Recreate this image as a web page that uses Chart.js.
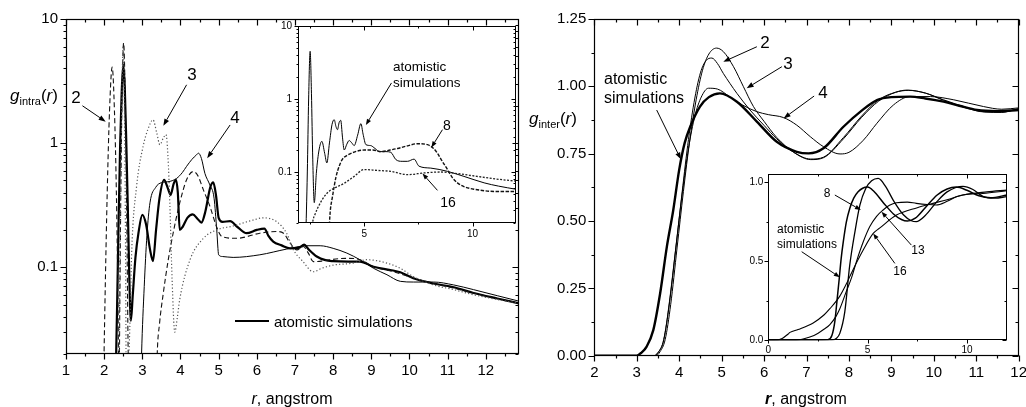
<!DOCTYPE html>
<html>
<head>
<meta charset="utf-8">
<script src="https://cdn.jsdelivr.net/npm/chart.js@4.4.1/dist/chart.umd.min.js"></script>
<style>
  body { margin: 0; background: #fff; font-family: 'Liberation Sans', Arial, sans-serif; }
  #wrap { position: relative; width: 1026px; height: 407px; overflow: hidden; background: #fff; }
  canvas { position: absolute; }
  .t { position: absolute; white-space: nowrap; color: #000; line-height: 1; transform: translate(-50%, -50%); }
  .l { position: absolute; white-space: nowrap; color: #000; line-height: 1; transform: translateY(-50%); }
  .sub { font-size: 11px; position: relative; top: 4px; }
</style>
</head>
<body>
<div id="wrap">
  <canvas id="intra" width="525" height="407" style="left:0;top:0"></canvas>
  <canvas id="intraInset" width="270" height="245" style="left:250px;top:0"></canvas>
  <canvas id="inter" width="501" height="407" style="left:525px;top:0"></canvas>
  <canvas id="interInset" width="290" height="200" style="left:725px;top:160px"></canvas>

  <!-- left panel text -->
  <div class="t" style="left:34px;top:95px;font-size:17px"><i>g</i><span class="sub">intra</span>(<i>r</i>)</div>
  <div class="t" style="left:76px;top:97px;font-size:17px">2</div>
  <div class="t" style="left:192px;top:74px;font-size:17px">3</div>
  <div class="t" style="left:235px;top:117px;font-size:17px">4</div>
  <div style="position:absolute;left:235px;top:320px;width:34px;height:2.4px;background:#000"></div>
  <div class="l" style="left:274px;top:321px;font-size:15px">atomistic simulations</div>
  <div class="l" style="left:393px;top:67px;font-size:13.5px">atomistic</div>
  <div class="l" style="left:393px;top:83px;font-size:13.5px">simulations</div>
  <div class="t" style="left:447px;top:125px;font-size:14px">8</div>
  <div class="t" style="left:448px;top:202px;font-size:14px">16</div>
  <div class="t" style="left:292px;top:399px;font-size:16px"><i>r</i>, angstrom</div>

  <!-- right panel text -->
  <div class="t" style="left:553px;top:118px;font-size:17px"><i>g</i><span class="sub">inter</span>(<i>r</i>)</div>
  <div class="t" style="left:765px;top:42px;font-size:17px">2</div>
  <div class="t" style="left:788px;top:63px;font-size:17px">3</div>
  <div class="t" style="left:823px;top:92px;font-size:17px">4</div>
  <div class="l" style="left:604px;top:79px;font-size:16px">atomistic</div>
  <div class="l" style="left:604px;top:98px;font-size:16px">simulations</div>
  <div class="t" style="left:827px;top:193px;font-size:12px">8</div>
  <div class="l" style="left:777px;top:229px;font-size:12px">atomistic</div>
  <div class="l" style="left:777px;top:244px;font-size:12px">simulations</div>
  <div class="t" style="left:918px;top:250px;font-size:12px">13</div>
  <div class="t" style="left:900px;top:271px;font-size:12px">16</div>
  <div class="t" style="left:806px;top:399px;font-size:16px"><b><i>r</i></b>, angstrom</div>
</div>

<script>
// ---- g_intra(r), main panel: [r, g] pairs ----
const intraAtom = [[2.30,0.012],[2.34,0.05],[2.38,0.25],[2.42,1.0],[2.46,2.6],[2.50,4.3],[2.54,2.8],[2.58,1.0],[2.62,0.3],[2.66,0.08],
  [2.70,0.037],[2.75,0.06],[2.82,0.12],[2.90,0.19],[3.00,0.264],[3.10,0.22],[3.20,0.14],[3.28,0.112],[3.36,0.2],[3.45,0.36],
  [3.57,0.506],[3.66,0.44],[3.74,0.383],[3.82,0.47],[3.88,0.506],[3.93,0.4],[3.98,0.2],[4.05,0.21],[4.18,0.25],[4.32,0.267],
  [4.45,0.245],[4.55,0.229],[4.65,0.28],[4.78,0.44],[4.86,0.482],[4.93,0.38],[5.00,0.25],[5.10,0.232],[5.30,0.235],[5.50,0.21],
  [5.73,0.188],[6.00,0.2],[6.20,0.205],[6.30,0.18],[6.43,0.161],[6.65,0.15],[6.87,0.142],[7.10,0.143],[7.24,0.152],[7.35,0.14],
  [7.57,0.122],[7.80,0.114],[8.00,0.112],[8.40,0.111],[8.70,0.111],[9.06,0.101],[9.50,0.095],[9.76,0.091],[10.10,0.0815],[10.63,0.074],
  [11.16,0.069],[11.68,0.062],[12.30,0.056],[12.90,0.051]];
const intraMap2 = [[1.98,0.01],[2.02,0.05],[2.08,0.4],[2.14,1.8],[2.21,4.1],[2.27,1.8],[2.32,0.4],[2.36,0.06],[2.39,0.01],[2.41,0.05],
  [2.44,0.5],[2.47,2.5],[2.51,6.4],[2.55,2.5],[2.59,0.3],[2.63,0.02],[2.67,0.008],[3.36,0.008],[3.39,0.02],[3.45,0.035],
  [3.55,0.062],[3.68,0.115],[3.81,0.19],[3.98,0.33],[4.16,0.506],[4.33,0.59],[4.45,0.55],[4.6,0.42],[4.77,0.31],[4.95,0.21],
  [5.08,0.177],[5.47,0.171],[6.08,0.188],[6.52,0.194],[6.7,0.188],[6.87,0.157],[7.05,0.138],[7.22,0.147],[7.35,0.13],[7.48,0.111],
  [7.7,0.112],[7.92,0.115],[8.36,0.118],[8.7,0.115],[9.06,0.101],[9.58,0.092],[10.1,0.082],[10.63,0.074],[11.16,0.068],[11.68,0.062],
  [12.3,0.056],[12.9,0.051]];
const intraMap3 = [[2.38,0.01],[2.42,0.2],[2.46,2.0],[2.5,6.0],[2.53,2.0],[2.56,0.15],[2.58,0.01],[2.62,0.008],[2.64,0.015],[2.68,0.04],
  [2.72,0.13],[2.85,0.45],[3.02,0.94],[3.15,1.3],[3.28,1.54],[3.38,1.2],[3.46,0.97],[3.55,1.1],[3.62,1.17],[3.67,0.8],
  [3.72,0.33],[3.78,0.08],[3.85,0.03],[3.92,0.04],[3.98,0.055],[4.25,0.115],[4.6,0.171],[4.95,0.2],[5.38,0.215],[5.9,0.24],
  [6.17,0.25],[6.52,0.233],[6.78,0.188],[6.96,0.138],[7.2,0.112],[7.48,0.092],[7.7,0.098],[8.0,0.104],[8.53,0.108],[8.88,0.115],
  [9.41,0.108],[9.76,0.098],[10.1,0.084],[10.63,0.072],[11.16,0.066],[11.68,0.06],[12.3,0.055],[12.9,0.051]];
const intraMap4 = [[2.95,0.008],[2.98,0.02],[3.05,0.07],[3.12,0.18],[3.2,0.33],[3.35,0.44],[3.5,0.48],[3.7,0.49],[3.9,0.52],[4.05,0.58],
  [4.16,0.65],[4.3,0.74],[4.42,0.805],[4.47,0.83],[4.55,0.75],[4.64,0.57],[4.77,0.46],[4.88,0.36],[4.95,0.2],[5.0,0.126],
  [5.1,0.122],[5.38,0.12],[6.08,0.126],[6.78,0.14],[7.31,0.149],[7.66,0.149],[8.0,0.142],[8.36,0.13],[8.7,0.115],[9.06,0.098],
  [9.41,0.087],[9.76,0.077],[10.1,0.076],[10.63,0.076],[11.16,0.072],[11.68,0.066],[12.3,0.059],[12.9,0.053]];

// ---- g_intra(r), inset ----
const intraInsetAtom = [[2.3,0.01],[2.38,0.1],[2.44,1.0],[2.51,4.5],[2.57,1.2],[2.63,0.15],[2.7,0.038],[2.8,0.1],[2.92,0.2],[3.05,0.263],
  [3.18,0.18],[3.28,0.133],[3.4,0.25],[3.52,0.45],[3.62,0.52],[3.7,0.42],[3.77,0.38],[3.85,0.48],[3.92,0.51],[4.0,0.3],
  [4.08,0.2],[4.2,0.24],[4.31,0.27],[4.43,0.25],[4.54,0.23],[4.7,0.32],[4.85,0.46],[4.95,0.33],[5.08,0.237],[5.3,0.23],
  [5.5,0.21],[5.7,0.19],[6.0,0.19],[6.23,0.186],[6.46,0.148],[6.75,0.14],[7.0,0.14],[7.3,0.15],[7.53,0.12],[8.07,0.113],
  [8.84,0.102],[9.6,0.087],[10.53,0.071],[11.2,0.064],[12.0,0.058]];
const intraInset8 = [[3.36,0.01],[3.42,0.025],[3.54,0.046],[3.7,0.085],[3.85,0.12],[4.0,0.15],[4.23,0.17],[4.6,0.19],[5.0,0.2],[5.4,0.2],
  [5.77,0.19],[6.2,0.2],[6.54,0.21],[7.0,0.228],[7.46,0.244],[7.92,0.237],[8.2,0.21],[8.38,0.18],[8.6,0.14],[8.84,0.108],
  [9.05,0.085],[9.3,0.071],[9.6,0.063],[10.07,0.058],[11.14,0.054],[12.0,0.054]];
const intraInset16 = [[2.55,0.012],[2.62,0.02],[2.75,0.027],[2.9,0.034],[3.16,0.046],[3.4,0.055],[3.62,0.06],[4.08,0.07],[4.54,0.087],[5.0,0.108],
  [5.6,0.105],[6.23,0.102],[7.0,0.092],[7.76,0.097],[8.53,0.1],[9.3,0.095],[10.2,0.087],[11.1,0.08],[12.0,0.075]];

// ---- g_inter(r), main panel ----
const interAtom = [[2,0],[3.0,0],[3.1,0.01],[3.23,0.033],[3.39,0.095],[3.55,0.23],[3.71,0.405],[3.86,0.54],[4.0,0.69],[4.13,0.79],
  [4.26,0.85],[4.49,0.925],[4.7,0.96],[4.96,0.974],[5.36,0.943],[5.83,0.869],[6.3,0.794],[6.77,0.757],[7.05,0.751],[7.4,0.77],
  [7.87,0.85],[8.3,0.91],[8.66,0.949],[9.0,0.96],[9.44,0.962],[9.8,0.955],[10.23,0.943],[10.6,0.928],[11.02,0.912],[11.5,0.908],[12,0.912]];
const interMap2 = [[2,0],[3.4,0],[3.5,0.012],[3.62,0.05],[3.75,0.17],[3.9,0.37],[4.05,0.58],[4.2,0.78],[4.35,0.94],[4.5,1.05],
  [4.63,1.095],[4.77,1.105],[4.9,1.085],[5.04,1.048],[5.2,1.01],[5.36,0.974],[5.67,0.912],[6.0,0.855],[6.3,0.805],[6.7,0.755],
  [7.1,0.73],[7.4,0.737],[7.87,0.81],[8.3,0.89],[8.7,0.95],[9.1,0.978],[9.4,0.985],[9.8,0.975],[10.23,0.95],[10.8,0.92],
  [11.2,0.905],[11.6,0.903],[12,0.918]];
const interMap3 = [[2,0],[3.45,0],[3.55,0.015],[3.67,0.06],[3.8,0.19],[3.95,0.4],[4.1,0.61],[4.25,0.8],[4.4,0.95],[4.55,1.06],
  [4.7,1.12],[4.88,1.142],[5.04,1.129],[5.28,1.073],[5.51,1.0],[5.75,0.925],[6.0,0.87],[6.3,0.81],[6.7,0.755],[7.1,0.728],
  [7.4,0.735],[7.87,0.805],[8.3,0.885],[8.7,0.945],[9.1,0.978],[9.37,0.986],[9.8,0.975],[10.23,0.948],[10.8,0.918],[11.2,0.905],
  [11.6,0.905],[12,0.915]];
const interMap4 = [[2,0],[3.42,0],[3.52,0.015],[3.64,0.06],[3.77,0.2],[3.92,0.4],[4.07,0.6],[4.22,0.77],[4.37,0.89],[4.52,0.96],
  [4.69,0.993],[4.9,0.99],[5.2,0.96],[5.5,0.93],[5.83,0.906],[6.1,0.895],[6.46,0.884],[6.77,0.856],[7.09,0.813],[7.4,0.776],
  [7.79,0.749],[8.0,0.755],[8.34,0.8],[8.66,0.863],[9.05,0.931],[9.44,0.962],[9.92,0.962],[10.47,0.95],[11.17,0.925],[11.6,0.915],[12,0.92]];

// ---- g_inter(r), inset ----
const interInsetAtom = [[0,0],[2.5,0],[3.0,0.003],[3.2,0.03],[3.35,0.12],[3.45,0.24],[3.57,0.39],[3.67,0.52],[3.77,0.62],[3.93,0.75],
  [4.1,0.835],[4.3,0.9],[4.52,0.94],[4.75,0.963],[5.0,0.97],[5.3,0.945],[5.8,0.87],[6.3,0.8],[6.7,0.765],[7.0,0.755],
  [7.4,0.773],[7.9,0.84],[8.5,0.92],[9.0,0.958],[9.46,0.97],[10.0,0.95],[10.6,0.915],[11.2,0.903],[12,0.92]];
const interInset8 = [[0,0],[3.2,0],[3.4,0.01],[3.6,0.044],[3.85,0.18],[4.1,0.476],[4.36,0.687],[4.61,0.856],[4.9,0.96],[5.2,1.01],
  [5.53,1.025],[5.9,0.975],[6.3,0.885],[6.8,0.795],[7.2,0.757],[7.45,0.751],[7.9,0.79],[8.5,0.88],[9.0,0.94],[9.8,0.975],
  [10.3,0.955],[10.8,0.912],[11.4,0.9],[12,0.91]];
const interInset13 = [[0,0],[1.3,0],[1.8,0.01],[2.3,0.03],[2.8,0.07],[3.1,0.1],[3.4,0.15],[3.6,0.2],[3.9,0.3],[4.2,0.4],
  [4.44,0.5],[4.8,0.63],[5.11,0.72],[5.45,0.785],[5.78,0.825],[6.1,0.855],[6.45,0.871],[7.0,0.875],[7.45,0.867],[8.0,0.86],
  [8.45,0.857],[9.0,0.88],[9.46,0.909],[10.0,0.925],[10.8,0.93],[12,0.947]];
const interInset16 = [[0,0],[0.25,0],[0.7,0.012],[1.0,0.04],[1.09,0.05],[1.5,0.068],[2.26,0.11],[2.8,0.16],[3.1,0.2],[3.6,0.28],
  [3.94,0.36],[4.2,0.43],[4.77,0.57],[5.28,0.677],[5.6,0.71],[6.45,0.793],[7.5,0.84],[8.12,0.862],[9.0,0.89],[9.8,0.92],
  [11,0.94],[12,0.951]];

// tick labels
const intraXLabels = [1,2,3,4,5,6,7,8,9,10,11,12];
const intraYLabels = [0.1, 1, 10];
const intraInsetXLabels = [5, 10];
const interXLabels = [2,3,4,5,6,7,8,9,10,11,12];
const interYLabels = [0, 0.25, 0.5, 0.75, 1.0, 1.25];
const interInsetXLabels = [0, 5, 10];
const interInsetYLabels = [0, 0.5, 1.0];

Chart.defaults.font.family = "'Liberation Sans', Arial, sans-serif";
Chart.defaults.color = '#000';

const pts = arr => arr.map(p => ({x: p[0], y: p[1]}));
const isMult = (v, s) => Math.abs(v / s - Math.round(v / s)) < 1e-6;

function linTicks(min, max, step) {
  const out = [];
  for (let k = Math.ceil(min / step - 1e-9); k * step <= max + 1e-9; k++) out.push(+(k * step).toFixed(6));
  return out;
}
function logTicks(min, max) {
  const out = [];
  for (let e = -3; e <= 2; e++)
    for (let m = 1; m < 10; m++) {
      const v = +(m * Math.pow(10, e)).toPrecision(3);
      if (v >= min - 1e-12 && v <= max + 1e-12) out.push(v);
    }
  return out;
}

function axis(o) {
  return {
    type: o.log ? 'logarithmic' : 'linear',
    min: o.min, max: o.max,
    grid: { display: false, drawTicks: false },
    border: { display: false },
    ticks: {
      autoSkip: false, maxRotation: 0, padding: o.pad, font: { size: o.size }, color: '#000',
      callback: v => o.labels.some(l => Math.abs(l - v) < 1e-9) ? o.fmt(v) : ''
    },
    afterBuildTicks: s => { s.ticks = o.ticks.map(v => ({ value: v })); },
    afterFit: s => {
      if (o.width != null) s.width = o.width;
      if (o.height != null) s.height = o.height;
      s.paddingLeft = 0; s.paddingRight = 0; s.paddingTop = 0; s.paddingBottom = 0;
    }
  };
}

// box + in/out tick marks like the original plotting program
const frame = {
  id: 'frame',
  afterDraw(chart, args, o) {
    const { ctx, chartArea: a } = chart, sx = chart.scales.x, sy = chart.scales.y;
    const L = Math.round(a.left) + 0.5, R = Math.round(a.right) - 0.5;
    const T = Math.round(a.top) + 0.5, B = Math.round(a.bottom) - 0.5;
    ctx.save();
    ctx.strokeStyle = '#000';
    ctx.lineWidth = o.lw;
    ctx.strokeRect(L, T, R - L, B - T);
    ctx.beginPath();
    sx.ticks.forEach(t => {
      const p = Math.round(sx.getPixelForValue(t.value)) + 0.5;
      const len = o.xMajor(t.value) ? o.major : o.minor;
      ctx.moveTo(p, B); ctx.lineTo(p, B + len);
      ctx.moveTo(p, T); ctx.lineTo(p, T + len);
    });
    sy.ticks.forEach(t => {
      const p = Math.round(sy.getPixelForValue(t.value)) + 0.5;
      const len = o.yMajor(t.value) ? o.major : o.minor;
      ctx.moveTo(L, p); ctx.lineTo(L - len, p);
      ctx.moveTo(R, p); ctx.lineTo(R - len, p);
    });
    ctx.stroke();
    ctx.restore();
  }
};

// annotation arrows, given in data coordinates [x0, y0, x1(tip), y1(tip)]
const arrows = {
  id: 'arrows',
  afterDatasetsDraw(chart, args, o) {
    const { ctx } = chart, sx = chart.scales.x, sy = chart.scales.y;
    (o.list || []).forEach(a => {
      const x0 = sx.getPixelForValue(a[0]), y0 = sy.getPixelForValue(a[1]);
      const x1 = sx.getPixelForValue(a[2]), y1 = sy.getPixelForValue(a[3]);
      const ang = Math.atan2(y1 - y0, x1 - x0), h = o.head, w = o.half;
      const bx = x1 - h * Math.cos(ang), by = y1 - h * Math.sin(ang);
      ctx.save();
      ctx.strokeStyle = '#000'; ctx.fillStyle = '#000'; ctx.lineWidth = 1;
      ctx.beginPath(); ctx.moveTo(x0, y0); ctx.lineTo(bx, by); ctx.stroke();
      ctx.beginPath();
      ctx.moveTo(x1, y1);
      ctx.lineTo(bx + w * Math.sin(ang), by - w * Math.cos(ang));
      ctx.lineTo(bx - w * Math.sin(ang), by + w * Math.cos(ang));
      ctx.closePath(); ctx.fill();
      ctx.restore();
    });
  }
};

function makeChart(id, datasets, x, y, padding, frameOpts, arrowOpts) {
  return new Chart(document.getElementById(id), {
    type: 'line',
    data: { datasets },
    options: {
      responsive: false, animation: false, devicePixelRatio: 1,
      layout: { padding },
      plugins: { legend: { display: false }, tooltip: { enabled: false }, frame: frameOpts, arrows: arrowOpts },
      scales: { x, y },
      elements: {
        point: { radius: 0 },
        line: { cubicInterpolationMode: 'monotone', fill: false, borderColor: '#000', borderWidth: 1 }
      }
    },
    plugins: [frame, arrows]
  });
}

const isDecade = v => isMult(Math.log10(v), 1);
const fmtLog = v => String(+v.toPrecision(3));

// left main: g_intra
makeChart('intra', [
    { data: pts(intraMap3), borderColor: '#555', borderWidth: 1.2, borderDash: [1.2, 2.2] },
    { data: pts(intraMap2), borderColor: '#111', borderWidth: 1.1, borderDash: [5, 3] },
    { data: pts(intraMap4), borderColor: '#000', borderWidth: 1 },
    { data: pts(intraAtom), borderColor: '#000', borderWidth: 2.2 }
  ],
  axis({ min: 1, max: 12.87, ticks: linTicks(1, 12.87, 0.5), labels: intraXLabels, fmt: v => String(v), size: 15, pad: 8, height: 53 }),
  axis({ log: true, min: 0.02, max: 10, ticks: logTicks(0.02, 10), labels: intraYLabels, fmt: fmtLog, size: 15, pad: 8, width: 66 }),
  { top: 19, right: 6, left: 0, bottom: 0 },
  { lw: 1.2, major: 6, minor: 3, xMajor: v => isMult(v, 1), yMajor: isDecade },
  { head: 7, half: 2.6, list: [[1.43, 2.0, 2.04, 1.49], [4.16, 2.95, 3.55, 1.38], [5.30, 1.4, 4.70, 0.757]] }
);

// left inset
makeChart('intraInset', [
    { data: pts(intraInset16), borderColor: '#222', borderWidth: 1.3, borderDash: [2, 1.5] },
    { data: pts(intraInset8), borderColor: '#111', borderWidth: 1.4, borderDash: [3.5, 1.5] },
    { data: pts(intraInsetAtom), borderColor: '#000', borderWidth: 1 }
  ],
  axis({ min: 1.95, max: 12.0, ticks: linTicks(1.95, 12.0, 2.5), labels: intraInsetXLabels, fmt: v => String(v), size: 10, pad: 5, height: 22 }),
  axis({ log: true, min: 0.02, max: 10, ticks: logTicks(0.02, 10), labels: intraYLabels, fmt: fmtLog, size: 10, pad: 6, width: 48 }),
  { top: 26, right: 4, left: 0, bottom: 0 },
  { lw: 1, major: 4, minor: 2, xMajor: v => isMult(v, 5), yMajor: isDecade },
  { head: 6, half: 2.3, list: [[6.26, 1.66, 5.08, 0.44], [8.61, 0.38, 8.1, 0.217], [8.38, 0.056, 7.69, 0.095]] }
);

// right main: g_inter
makeChart('inter', [
    { data: pts(interMap2), borderColor: '#000', borderWidth: 1 },
    { data: pts(interMap3), borderColor: '#000', borderWidth: 1 },
    { data: pts(interMap4), borderColor: '#000', borderWidth: 1 },
    { data: pts(interAtom), borderColor: '#000', borderWidth: 2.4 }
  ],
  axis({ min: 2, max: 12, ticks: linTicks(2, 12, 0.5), labels: interXLabels, fmt: v => String(v), size: 15, pad: 8, height: 51.3 }),
  axis({ min: 0, max: 1.25, ticks: linTicks(0, 1.25, 0.125), labels: interYLabels, fmt: v => v.toFixed(2), size: 15, pad: 8, width: 69.3 }),
  { top: 19, right: 7.3, left: 0, bottom: 0 },
  { lw: 1.2, major: 6, minor: 3, xMajor: v => isMult(v, 1), yMajor: v => isMult(v, 0.25) },
  { head: 7, half: 2.6, list: [[5.83, 1.147, 5.04, 1.091], [6.42, 1.073, 5.59, 0.993], [7.18, 0.964, 6.46, 0.881], [3.47, 0.912, 4.04, 0.729]] }
);

// right inset
makeChart('interInset', [
    { data: pts(interInset16), borderColor: '#000', borderWidth: 1.1 },
    { data: pts(interInset13), borderColor: '#000', borderWidth: 1.1 },
    { data: pts(interInset8), borderColor: '#000', borderWidth: 1.3 },
    { data: pts(interInsetAtom), borderColor: '#000', borderWidth: 1.5 }
  ],
  axis({ min: 0, max: 12, ticks: linTicks(0, 12, 2.5), labels: interInsetXLabels, fmt: v => String(v), size: 10, pad: 4, height: 19.7 }),
  axis({ min: 0, max: 1.055, ticks: linTicks(0, 1.055, 0.25), labels: interInsetYLabels, fmt: v => v.toFixed(1), size: 10, pad: 5, width: 43.3 }),
  { top: 13.7, right: 8.3, left: 0, bottom: 0 },
  { lw: 1, major: 4, minor: 2, xMajor: v => isMult(v, 5), yMajor: v => isMult(v, 0.5) },
  { head: 6, half: 2.3, list: [[3.35, 0.92, 4.66, 0.825], [1.68, 0.561, 3.6, 0.399], [7.2, 0.603, 5.7, 0.814], [6.37, 0.487, 5.28, 0.677]] }
);
</script>
</body>
</html>
